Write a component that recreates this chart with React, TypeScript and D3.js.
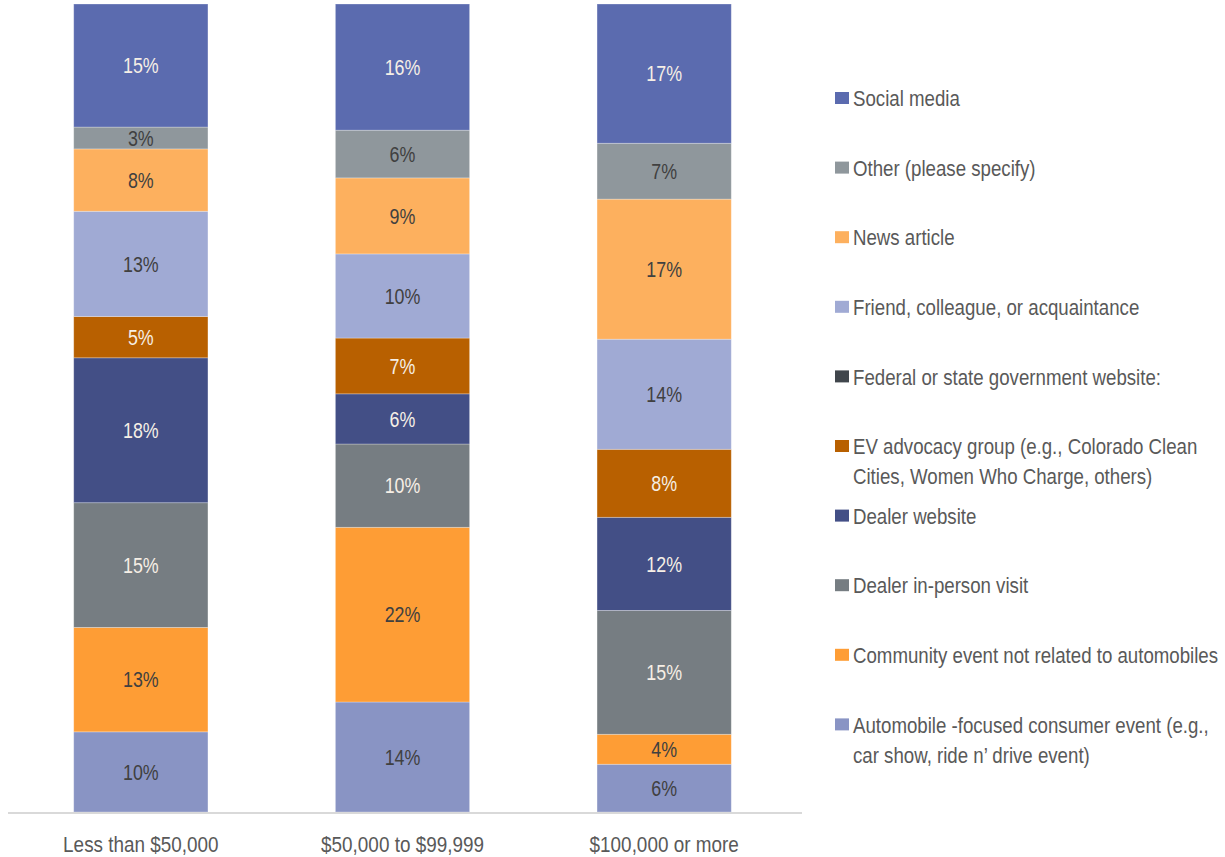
import React from 'react';
import * as d3 from 'd3';

// Income groups (x categories)
const categories = ['Less than $50,000', '$50,000 to $99,999', '$100,000 or more'];

// Series keys, bottom of stack first
const seriesKeys = [
  'auto',
  'community',
  'dealerVisit',
  'dealerWebsite',
  'federal',
  'evAdvocacy',
  'friend',
  'news',
  'other',
  'social',
];

// Share of respondents (%) per income group, in category order
const autoEvent = [9.9, 13.6, 5.9];
const communityEvent = [12.9, 21.6, 3.7];
const dealerVisit = [15.4, 10.3, 15.3];
const dealerWebsite = [17.9, 6.2, 11.5];
const federalWebsite = [0, 0, 0];
const evAdvocacy = [5.1, 6.9, 8.4];
const friend = [13.0, 10.4, 13.6];
const newsArticle = [7.7, 9.4, 17.3];
const otherSpecify = [2.7, 5.9, 6.9];
const socialMedia = [15.2, 15.6, 17.2];

const seriesValues: Record<string, number[]> = {
  auto: autoEvent,
  community: communityEvent,
  dealerVisit,
  dealerWebsite,
  federal: federalWebsite,
  evAdvocacy,
  friend,
  news: newsArticle,
  other: otherSpecify,
  social: socialMedia,
};

// Legend order (top to bottom) with wrapped lines
const legendKeys = [
  'social',
  'other',
  'news',
  'friend',
  'federal',
  'evAdvocacy',
  'dealerWebsite',
  'dealerVisit',
  'community',
  'auto',
];
const legendLabels: Record<string, string[]> = {
  social: ['Social media'],
  other: ['Other (please specify)'],
  news: ['News article'],
  friend: ['Friend, colleague, or acquaintance'],
  federal: ['Federal or state government website:'],
  evAdvocacy: ['EV advocacy group (e.g., Colorado Clean', 'Cities, Women Who Charge, others)'],
  dealerWebsite: ['Dealer website'],
  dealerVisit: ['Dealer in-person visit'],
  community: ['Community event not related to automobiles'],
  auto: ['Automobile -focused consumer event (e.g.,', 'car show, ride n\u2019 drive event)'],
};

const colors: Record<string, string> = {
  social: '#5b6baf',
  other: '#8f979c',
  news: '#fdb05e',
  friend: '#a0aad4',
  federal: '#40464c',
  evAdvocacy: '#b86000',
  dealerWebsite: '#434f86',
  dealerVisit: '#767d82',
  community: '#fe9d35',
  auto: '#8994c4',
};

const darkSeries = new Set(['social', 'evAdvocacy', 'dealerWebsite', 'dealerVisit', 'federal']);

const WIDTH = 1225;
const HEIGHT = 857;
const FONT = '"Liberation Sans", Arial, sans-serif';
// the source text is a narrow face; squeeze a regular sans horizontally
const NARROW = 0.83;

export default function App() {
  const rows = categories.map((c, i) => {
    const row: Record<string, number | string> = { category: c };
    seriesKeys.forEach(k => { row[k] = seriesValues[k][i]; });
    return row;
  });

  const stacked = d3.stack<Record<string, number | string>>()
    .keys(seriesKeys)
    .value((d, k) => d[k] as number)
    .offset(d3.stackOffsetExpand)(rows);

  const x = d3.scaleBand<string>()
    .domain(categories)
    .range([10, 795])
    .paddingInner(0.487)
    .paddingOuter(0.2435);

  const y = d3.scaleLinear().domain([0, 1]).range([812, 4]);

  const legendX = 835;
  const legendY0 = 98;
  const legendStep = 69.6;

  return (
    <svg
      width={WIDTH}
      height={HEIGHT}
      style={{ position: 'absolute', left: 0, top: 0, background: '#fff' }}
      fontFamily={FONT}
    >
      {stacked.map(layer => (
        <g key={layer.key}>
          {layer.map((d, i) => {
            const v = seriesValues[layer.key][i];
            if (v <= 0) return null;
            const x0 = x(categories[i]) ?? 0;
            const y0 = y(d[1]);
            const h = y(d[0]) - y(d[1]);
            return (
              <g key={i}>
                <rect
                  x={x0}
                  y={y0}
                  width={x.bandwidth()}
                  height={h}
                  fill={colors[layer.key]}
                  stroke="#ffffff"
                  strokeOpacity={0.35}
                  strokeWidth={0.8}
                />
                <text
                  transform={`translate(${x0 + x.bandwidth() / 2},${y0 + h / 2}) scale(${NARROW},1)`}
                  dy="0.36em"
                  textAnchor="middle"
                  fontSize={21.5}
                  fill={darkSeries.has(layer.key) ? '#f6efe6' : '#404040'}
                >
                  {`${Math.round(v)}%`}
                </text>
              </g>
            );
          })}
        </g>
      ))}

      {/* baseline */}
      <line x1={8} x2={802} y1={813} y2={813} stroke="#d9d9d9" strokeWidth={2} />

      {categories.map(c => (
        <text
          key={c}
          transform={`translate(${(x(c) ?? 0) + x.bandwidth() / 2},852) scale(0.84,1)`}
          textAnchor="middle"
          fontSize={22.5}
          fill="#595959"
        >
          {c}
        </text>
      ))}

      {legendKeys.map((k, i) => {
        const cy = legendY0 + i * legendStep;
        return (
          <g key={k}>
            <rect x={legendX} y={cy - 6} width={14} height={12} fill={colors[k]} />
            {legendLabels[k].map((line, j) => (
              <text
                key={j}
                transform={`translate(${legendX + 18},${cy + j * 30}) scale(${NARROW},1)`}
                dy="0.36em"
                fontSize={22.5}
                fill="#595959"
              >
                {line}
              </text>
            ))}
          </g>
        );
      })}
    </svg>
  );
}
